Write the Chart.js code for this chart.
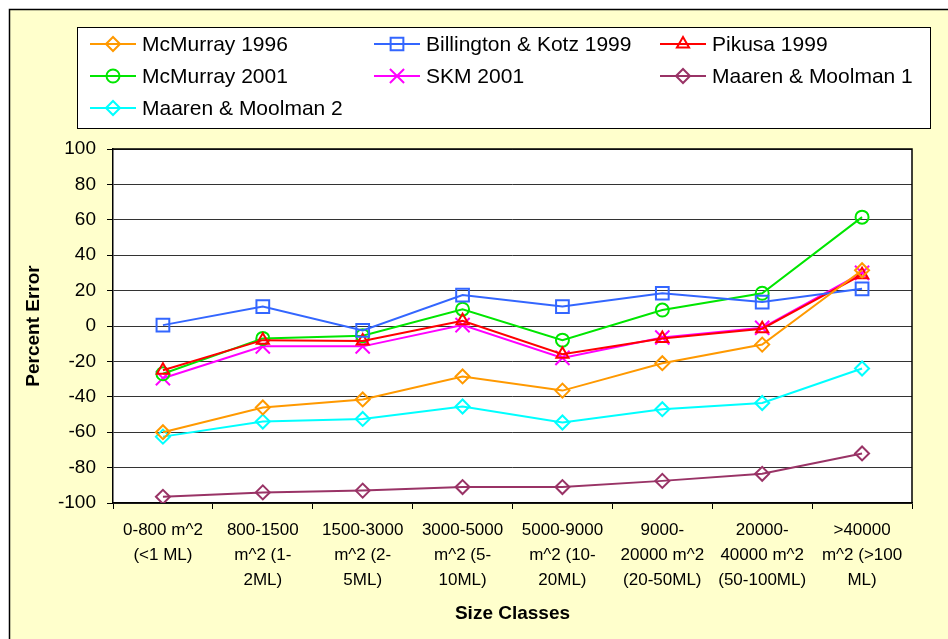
<!DOCTYPE html>
<html>
<head>
<meta charset="utf-8">
<script src="https://cdn.jsdelivr.net/npm/chart.js@4.4.0/dist/chart.umd.min.js"></script>
<style>
  html, body { margin: 0; padding: 0; background: #fff; overflow: hidden; }
  #wrap { position: relative; width: 948px; height: 639px; }
</style>
</head>
<body>
<div id="wrap"><canvas id="chart"></canvas></div>
<script>
'use strict';

// categories (x axis, multi-line labels)
const sizeClasses = [
    ['0-800 m^2', '(<1 ML)'],
    ['800-1500', 'm^2 (1-', '2ML)'],
    ['1500-3000', 'm^2 (2-', '5ML)'],
    ['3000-5000', 'm^2 (5-', '10ML)'],
    ['5000-9000', 'm^2 (10-', '20ML)'],
    ['9000-', '20000 m^2', '(20-50ML)'],
    ['20000-', '40000 m^2', '(50-100ML)'],
    ['>40000', 'm^2 (>100', 'ML)']
];

// percent error per study
const mcmurray1996 = [-60, -46, -41.5, -28.5, -36.5, -21, -10.5, 31.5];
const billington1999 = [0.5, 11, -2.5, 17.5, 11, 18.5, 13.5, 21];
const pikusa1999 = [-25, -8, -8.5, 3, -16, -7, -1.5, 29];
const mcmurray2001 = [-27, -7, -5.5, 9.5, -8, 9, 18.5, 61.5];
const skm2001 = [-29.5, -11.5, -11.5, 0.5, -18, -6.5, -1, 30];
const maarenMoolman1 = [-96.5, -94, -93, -91, -91, -87.5, -83.5, -72];
const maarenMoolman2 = [-62.5, -54, -52.5, -45.5, -54.5, -47, -43.5, -24];

// y axis ticks
const yMin = -100;
const yMax = 100;
const yStep = 20;

function serie(label, data, color, pointStyle, radius) {
    return {
        label, data,
        borderColor: color,
        backgroundColor: 'transparent',
        borderWidth: 2,
        pointStyle,
        pointRadius: radius,
        pointBorderWidth: 2,
        pointBorderColor: color,
        pointBackgroundColor: 'transparent',
        tension: 0
    };
}

const datasets = [
    serie('McMurray 1996', mcmurray1996, '#FF9900', 'rectRot', 7),
    serie('Billington & Kotz 1999', billington1999, '#3366FF', 'rect', 9),
    serie('Pikusa 1999', pikusa1999, '#FF0000', 'triangle', 7),
    serie('McMurray 2001', mcmurray2001, '#00E600', 'circle', 6.5),
    serie('SKM 2001', skm2001, '#FF00FF', 'crossRot', 10),
    serie('Maaren & Moolman 1', maarenMoolman1, '#993366', 'rectRot', 7),
    serie('Maaren & Moolman 2', maarenMoolman2, '#00FFFF', 'rectRot', 7)
];

// fond jaune avec bordure, zone de tracé blanche
const backgroundPlugin = {
    id: 'background',
    beforeDraw(chart) {
        const { ctx, chartArea: a, width, height } = chart;
        ctx.save();
        ctx.fillStyle = '#fff';
        ctx.fillRect(0, 0, width, height);
        ctx.fillStyle = '#FFFFCC';
        ctx.fillRect(9, 9, width - 9, height - 9);
        ctx.strokeStyle = '#000';
        ctx.lineWidth = 1.5;
        ctx.beginPath();
        ctx.moveTo(9.5, height);
        ctx.lineTo(9.5, 9.5);
        ctx.lineTo(width, 9.5);
        ctx.stroke();
        ctx.fillStyle = '#fff';
        ctx.fillRect(a.left, a.top, a.right - a.left, a.bottom - a.top);
        ctx.restore();
    },
    afterDraw(chart) {
        const { ctx, chartArea: a } = chart;
        ctx.save();
        ctx.strokeStyle = '#000';
        ctx.lineWidth = 1.5;
        ctx.beginPath();
        ctx.moveTo(a.left, a.top);
        ctx.lineTo(a.right, a.top);
        ctx.lineTo(a.right, a.bottom);
        ctx.stroke();
        ctx.restore();
    }
};

// légende en grille de 3 colonnes, comme Excel
const gridLegendPlugin = {
    id: 'gridLegend',
    afterDraw(chart) {
        const { ctx } = chart;
        const box = { x: 77, y: 27, w: 853, h: 101 };
        const cols = [90, 374, 660];
        const rows = [44, 76, 108];
        ctx.save();
        ctx.fillStyle = '#fff';
        ctx.fillRect(box.x, box.y, box.w, box.h);
        ctx.strokeStyle = '#000';
        ctx.lineWidth = 1;
        ctx.strokeRect(box.x + 0.5, box.y + 0.5, box.w, box.h);
        ctx.font = '21px "Liberation Sans", Arial, sans-serif';
        ctx.textBaseline = 'middle';
        chart.data.datasets.forEach((ds, i) => {
            const x = cols[i % 3];
            const y = rows[Math.floor(i / 3)];
            ctx.strokeStyle = ds.borderColor;
            ctx.fillStyle = 'transparent';
            ctx.lineWidth = 2;
            ctx.beginPath();
            ctx.moveTo(x, y);
            ctx.lineTo(x + 46, y);
            ctx.stroke();
            Chart.helpers.drawPoint(ctx, {
                pointStyle: ds.pointStyle, radius: ds.pointRadius, rotation: 0, borderWidth: 2
            }, x + 23, y);
            ctx.fillStyle = '#000';
            ctx.fillText(ds.label, x + 52, y + 1);
        });
        ctx.restore();
    }
};

const tickFont = { family: '"Liberation Sans", Arial, sans-serif' };

new Chart(document.getElementById('chart'), {
    type: 'line',
    data: { labels: sizeClasses, datasets },
    options: {
        responsive: true, maintainAspectRatio: false, animation: false,
        layout: { padding: { top: 149, right: 36, left: 0, bottom: 0 } },
        plugins: { legend: { display: false }, tooltip: { enabled: false } },
        scales: {
            x: {
                offset: true,
                afterFit: (s) => { s.height = 136; },
                grid: { offset: true, drawOnChartArea: false, drawTicks: true, tickLength: 6, color: '#000' },
                border: { color: '#000', width: 1.5 },
                ticks: { color: '#000', padding: 9, maxRotation: 0, autoSkip: false,
                    font: { ...tickFont, size: 17, lineHeight: 1.47 } },
                title: { display: true, text: 'Size Classes', color: '#000',
                    font: { ...tickFont, size: 19, weight: 'bold' }, padding: { top: 4, bottom: 14 } }
            },
            y: {
                min: yMin, max: yMax,
                afterFit: (s) => { s.width = 113; },
                grid: { color: '#333', tickColor: '#000', tickLength: 6, lineWidth: 1 },
                border: { color: '#000', width: 1.5 },
                ticks: { stepSize: yStep, color: '#000', padding: 11,
                    font: { ...tickFont, size: 19 } },
                title: { display: true, text: 'Percent Error', color: '#000',
                    font: { ...tickFont, size: 19, weight: 'bold' }, padding: { top: 22, bottom: 0 } }
            }
        }
    },
    plugins: [backgroundPlugin, gridLegendPlugin]
});
</script>
</body>
</html>
